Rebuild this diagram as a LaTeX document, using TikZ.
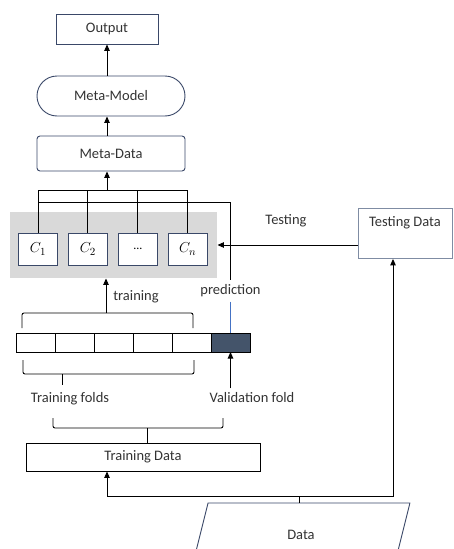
\documentclass[tikz,border=0pt]{standalone}
\usepackage{tikz}
\usetikzlibrary{arrows.meta, positioning, shapes.geometric}
\usepackage{xcolor}
\usepackage{fontspec}
\setmainfont{Carlito}

\definecolor{boxline}{HTML}{3A4868}
\definecolor{testline}{HTML}{7F8CA3}
\definecolor{valfold}{HTML}{44546A}
\definecolor{poolgray}{HTML}{D9D9D9}
\definecolor{predblue}{HTML}{4472C4}

\tikzset{
  arr/.style={-{Triangle[length=6.5pt,width=5.5pt]}},
  metabox/.style={draw=boxline, line width=0.9pt, minimum width=148pt,
    font=\fontsize{14.5}{17}\selectfont, text=black!80},
  clf/.style={draw=boxline, fill=white, line width=0.9pt, minimum width=39pt,
    minimum height=32pt, inner sep=0pt, font=\fontsize{15}{17}\selectfont},
  fold/.style={draw=black, line width=0.9pt, minimum width=39pt,
    minimum height=19pt, inner sep=0pt, outer sep=0pt},
  lbl/.style={font=\fontsize{14.5}{17}\selectfont, text=black!80, inner sep=4pt}
}

\begin{document}
\begin{tikzpicture}[x=1pt, y=-1pt, line width=0.9pt]
      \useasboundingbox (0,0) rectangle (453,549);

      % meta level
      \node[metabox, minimum width=102pt, minimum height=30pt] (output) at (107,29) {Output};
      \node[metabox, minimum height=40pt, rounded corners=20pt] (metamodel) at (111,96) {Meta-Model};
      \node[metabox, minimum height=35pt, rounded corners=3pt] (metadata) at (111,153.5) {Meta-Data};
      \draw[arr] (metamodel.north -| output.south) -- (output.south);
      \draw[arr] (metadata.north -| output.south) -- (metamodel.south -| output.south);

      % base classifiers
      \node[fill=poolgray, minimum width=207pt, minimum height=66pt, inner sep=0pt] (pool) at (113.5,245) {};
      \node[clf] (c1) at (38,249) {$C_1$};
      \node[clf, right=10pt of c1] (c2) {$C_2$};
      \node[clf, right=10pt of c2] (c3) {\fontsize{12}{14}\selectfont ...};
      \node[clf, right=10pt of c3] (cn) {$C_n$};

      \coordinate (bus) at (107,190);
      \draw (c1.north) -- (c1.north |- bus) -- (cn.north |- bus) -- (cn.north);
      \draw (c2.north) -- (c2.north |- bus);
      \draw (c3.north) -- (c3.north |- bus);
      \draw[arr] (bus) -- (metadata.south -| bus);

      % folds
      \node[fold] (f1) at (35.5,342.5) {};
      \node[fold, right=0pt of f1] (f2) {};
      \node[fold, right=0pt of f2] (f3) {};
      \node[fold, right=0pt of f3] (f4) {};
      \node[fold, right=0pt of f4] (f5) {};
      \node[fold, right=0pt of f5, fill=valfold] (f6) {};

      % prediction path
      \node[lbl] (pred) at (230.5,291) {prediction};
      \coordinate (predtop) at (230.5,202);
      \draw (c1.north |- predtop) -- (predtop) -- (pred.north);
      \draw[predblue, line width=0.6pt] (pred.south) -- (f6.north);

      % training brace
      \draw[rounded corners=2pt] (22,328) -- (22,313) -- (193,313) -- (193,328);
      \coordinate (tb) at (106,313);
      \draw[arr] (tb) -- (tb |- pool.south);
      \node[lbl] (trn) at (136,297) {training};

      \draw[rounded corners=2pt] (23,360) -- (23,374) -- (194,374) -- (194,360);
      \draw (62,374) -- (62,385);
      \node[lbl] (tfolds) at (70,399) {Training folds};

      \node[lbl] (vfold) at (252,398) {Validation fold};
      \draw[arr] (f6.south |- vfold.north) -- (f6.south);

      % training data
      \draw[rounded corners=2pt] (53,418) -- (53,428) -- (223,428) -- (223,418);
      \node[draw=black, minimum width=234pt, minimum height=28pt,
        font=\fontsize{14.5}{17}\selectfont, text=black!80] (train) at (143,457) {Training Data};
      \coordinate (bb) at (147,428);
      \draw (bb) -- (bb |- train.north);

      % testing data
      \node[draw=testline, minimum width=94pt, inner sep=0pt, text height=18pt, text depth=32pt,
        font=\fontsize{14.5}{17}\selectfont, text=black!80, anchor=north] (test) at (405,208) {Testing Data};
      \node[lbl] (tstlbl) at (286,221) {Testing};
      \draw[arr] (pool.east -| test.west) -- (pool.east);

      % data
      \node[draw=boxline, trapezium, trapezium left angle=76, trapezium right angle=104,
        minimum width=218pt, minimum height=36pt, inner sep=0pt,
        font=\fontsize{14.5}{17}\selectfont, text=black!80] (data) at (301,535) {Data};
      \coordinate (split) at (299,496);
      \draw (split |- data.north) -- (split);
      \draw[arr] (split) -| (train.south -| 107,0);
      \draw[arr] (split) -| (test.south -| 393,0);
    \end{tikzpicture}
\end{document}
